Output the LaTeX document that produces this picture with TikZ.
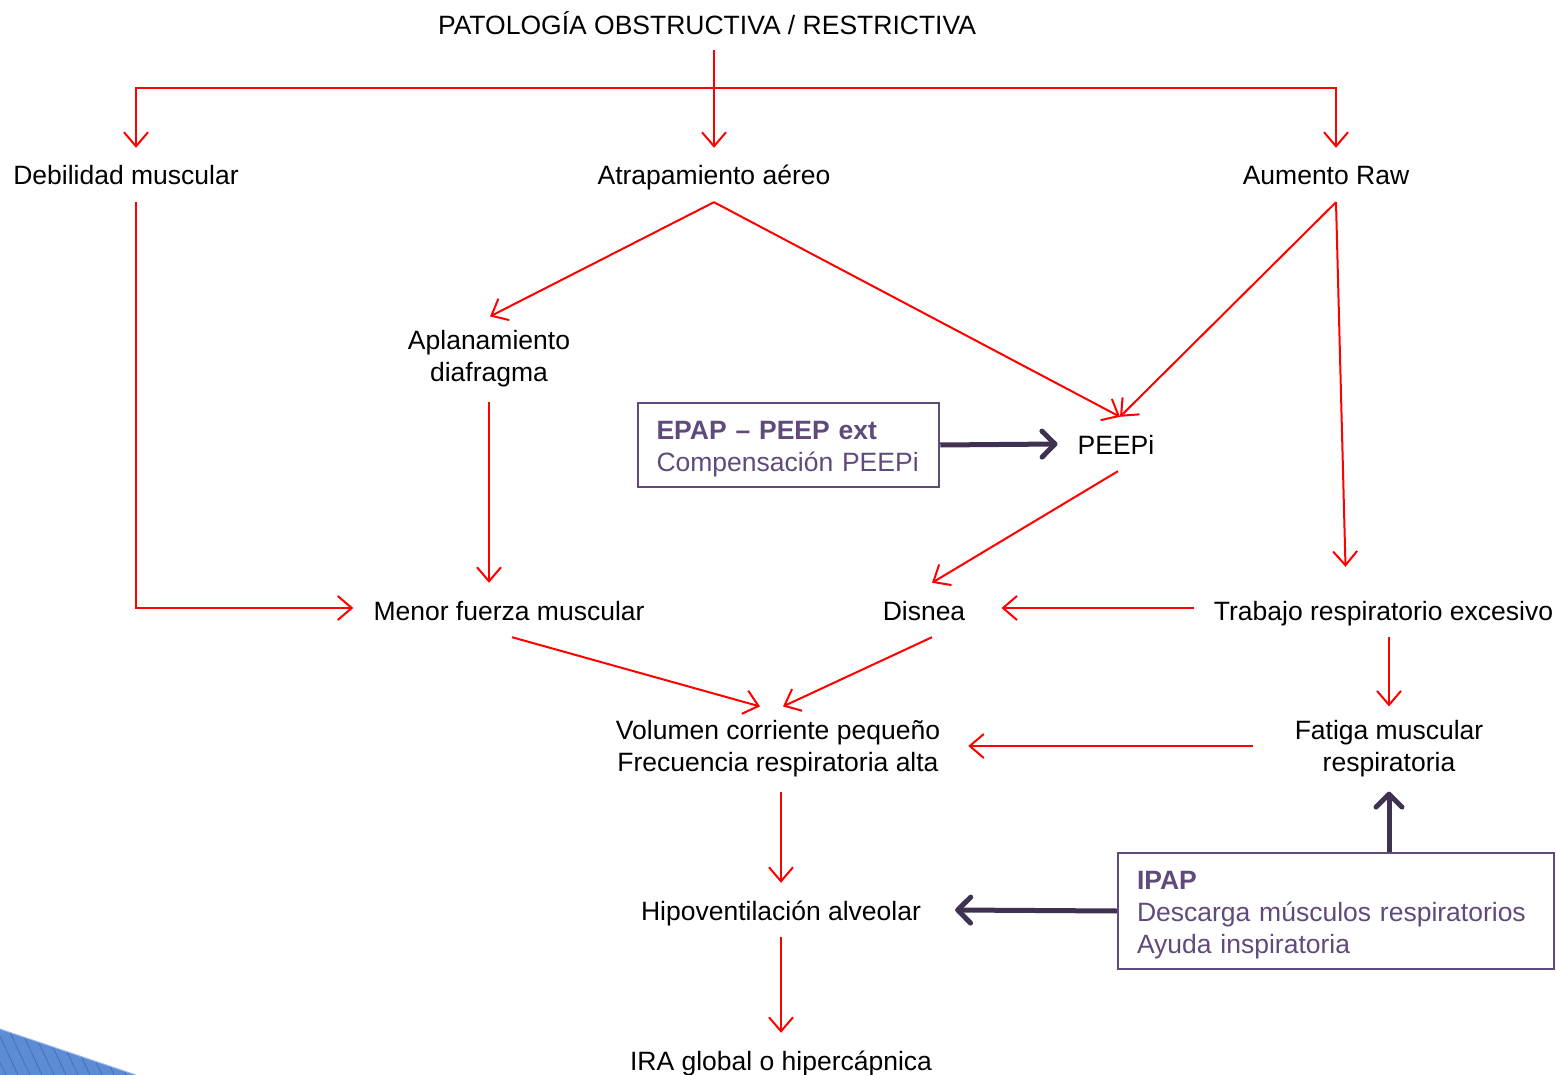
\documentclass[tikz,border=0pt]{standalone}
\usepackage{fontspec}
\setmainfont{Liberation Sans}
\usetikzlibrary{arrows.meta,calc}
\definecolor{boxpurple}{RGB}{96,74,123}
\definecolor{darkpurple}{RGB}{63,49,81}
\definecolor{decoblue}{RGB}{92,140,214}
\begin{document}
\begin{tikzpicture}[x=1pt,y=-1pt,
  every node/.style={font=\fontsize{26.5}{32}\selectfont},
  txt/.style={text height=23pt, text depth=3pt, inner xsep=20pt, inner ysep=14pt},
  txttwo/.style={align=center, inner xsep=20pt, inner ysep=14pt},
  infobox/.style={draw=boxpurple, line width=2.5pt, text=boxpurple, align=left, inner ysep=6pt},
  ra/.style={draw=red, line width=2pt, -{Straight Barb[length=14pt,width=24pt]}},
  rab/.style={draw=red, line width=2pt, {Straight Barb[length=14pt,width=24pt]}-{Straight Barb[length=14pt,width=24pt]}},
  ta/.style={draw=darkpurple, line width=5pt, -{Straight Barb[length=13pt,width=26pt,round]}}
]
\useasboundingbox (0,0) rectangle (1556,1075);

% decoration bottom-left
\begin{scope}
  \clip (0,1029) -- (136,1075) -- (0,1075) -- cycle;
  \fill[decoblue] (0,1000) rectangle (140,1075);
  \foreach \i in {-40,-28,...,150} \draw[decoblue!75!black, line width=0.6pt] (\i,1028) -- (\i+22,1075);
\end{scope}
\draw[decoblue!60!white, line width=1pt] (0,1029) -- (136,1075);

% nodes
\node[txt] (title) at (707,25) {PATOLOGÍA OBSTRUCTIVA / RESTRICTIVA};
\node[txt] (deb) at (126,175) {Debilidad muscular};
\node[txt] (atr) at (714,175) {Atrapamiento aéreo};
\node[txt] (aum) at (1326,175) {Aumento Raw};
\node[txttwo] (apl) at (489,359) {Aplanamiento\\diafragma};
\node[txt] (peepi) at (1116,444) {PEEPi};
\node[infobox, inner xsep=18.5pt, text width=264pt, minimum height=84pt] (epap) at (788.5,445)
  {\rule{0pt}{27pt}\textbf{EPAP – PEEP ext}\\Compensación PEEPi};
\node[txt] (menor) at (509,610) {Menor fuerza muscular};
\node[txt, inner xsep=36pt] (dis) at (924,610) {Disnea};
\node[txt] (trab) at (1383.5,610) {Trabajo respiratorio excesivo};
\node[txttwo, inner xsep=28pt] (vol) at (778,749) {Volumen corriente pequeño\\Frecuencia respiratoria alta};
\node[txttwo, inner xsep=42pt] (fat) at (1389,749) {Fatiga muscular\\respiratoria};
\node[txt, inner xsep=34pt] (hipo) at (781,910) {Hipoventilación alveolar};
\node[infobox, inner xsep=19pt, text width=398pt, minimum height=116pt] (ipap) at (1336,911)
  {\rule{0pt}{27pt}\textbf{IPAP}\\Descarga músculos respiratorios\\Ayuda inspiratoria};
\node[txt] (ira) at (781,1060) {IRA global o hipercápnica};

% red connectors
\draw[ra] ($(title.south)+(7,-2)$) -- (atr.north);
\draw[rab] ($(deb.north)+(10,0)$) -- ($(deb.north)+(10,-60)$) -| ($(aum.north)+(10,0)$);
\draw[ra] ($(deb.south)+(10,0)$) |- ($(menor.west)+(0,-2)$);
\draw[ra] (atr.south) -- ($(apl.north)+(1,0)$);
\draw[ra] (atr.south) -- ($(peepi.north)+(4,0)$);
\draw[ra] ($(aum.south)+(10,0)$) -- ($(peepi.north)+(4,0)$);
\draw[ra] ($(aum.south)+(10,0)$) -- ($(trab.north)+(-38,-16)$);
\draw[ra] (apl.south) -- (apl.south |- menor.north);
\draw[ra] ($(peepi.south)+(2,0)$) -- ($(dis.north)+(8,0)$);
\draw[ra] ($(trab.west)+(0,-2)$) -- ($(dis.east)+(0,-2)$);
\draw[ra] ($(menor.south)+(3,0)$) -- ($(vol.north)+(-18,0)$);
\draw[ra] ($(dis.south)+(8,0)$) -- ($(vol.north)+(5,0)$);
\draw[ra] (fat.north |- trab.south) -- (fat.north);
\draw[ra] ($(fat.west)+(0,-3)$) -- ($(vol.east)+(0,-3)$);
\draw[ra] (vol.south -| hipo.north) -- (hipo.north);
\draw[ra] (hipo.south) -- (ira.north);

% thick connectors
\draw[ta] (epap.east) -- (peepi.west);
\draw[ta] (ipap.north -| fat.south) -- (fat.south);
\draw[ta] (ipap.west) -- (hipo.east);
\end{tikzpicture}
\end{document}
